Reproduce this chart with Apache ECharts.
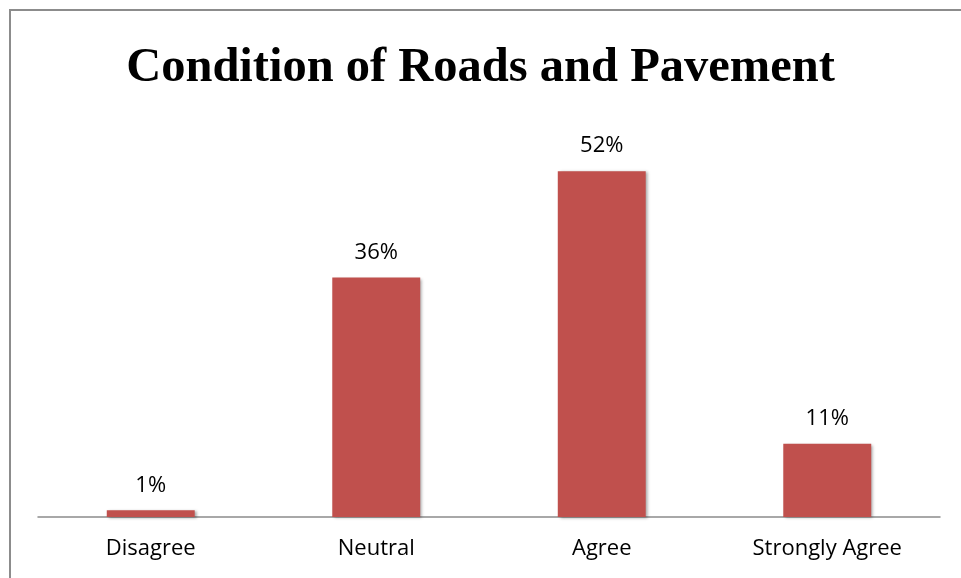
<!DOCTYPE html>
<html>
<head>
<meta charset="utf-8">
<script src="https://cdn.jsdelivr.net/npm/echarts@6/dist/echarts.min.js"></script>
<style>
  html, body { margin: 0; padding: 0; background: #fff; }
  #frame { position: absolute; left: 9px; top: 9px; width: 960px; height: 580px;
           border-left: 2px solid #8c8c8c; border-top: 2px solid #8c8c8c; }
  #chart { position: absolute; left: 0; top: 0; width: 961px; height: 578px; }
</style>
</head>
<body>
<div id="frame"></div>
<div id="chart"></div>
<script>
  const categories = ['Disagree', 'Neutral', 'Agree', 'Strongly Agree'];
  const percents = [1, 36, 52, 11];

  const chart = echarts.init(document.getElementById('chart'));
  const option = {
    animation: false,
    title: {
      text: 'Condition of Roads and Pavement',
      left: 'center',
      top: 39,
      textStyle: {
        fontFamily: 'Liberation Serif',
        fontWeight: 'bold',
        fontSize: 48.5,
        color: '#000'
      }
    },
    grid: {
      left: 38,
      right: 21,
      top: 118,
      bottom: 61
    },
    xAxis: {
      type: 'category',
      data: categories,
      axisLine: { lineStyle: { color: '#8c8c8c', width: 1.5 } },
      axisTick: { show: false },
      axisLabel: {
        margin: 21,
        fontFamily: 'Open Sans',
        fontSize: 22,
        color: '#000'
      }
    },
    yAxis: {
      type: 'value',
      min: 0,
      max: 60,
      show: false
    },
    series: [
      {
        type: 'bar',
        data: percents,
        barWidth: '39%',
        itemStyle: {
          color: '#c0504d',
          shadowColor: 'rgba(0,0,0,0.35)',
          shadowBlur: 3,
          shadowOffsetX: 2,
          shadowOffsetY: 1
        },
        label: {
          show: true,
          position: 'top',
          distance: 14,
          formatter: '{c}%',
          fontFamily: 'Open Sans',
          fontSize: 22,
          color: '#000'
        }
      }
    ]
  };
  chart.setOption(option);
  window.addEventListener('resize', function () {
    chart.resize();
  });
</script>
</body>
</html>
